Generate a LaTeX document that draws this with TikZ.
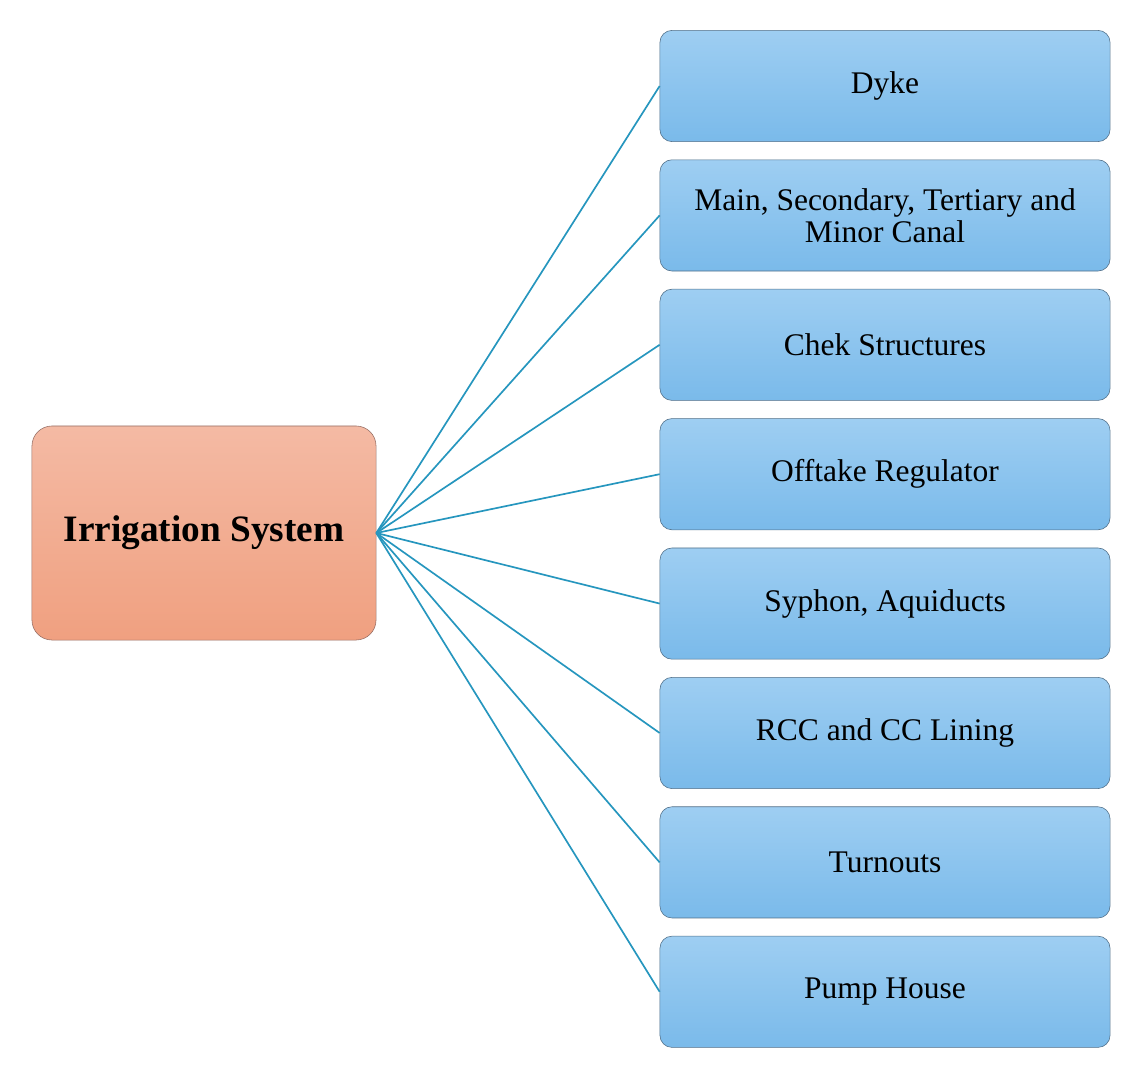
\documentclass[tikz,border=0pt]{standalone}
\usepackage{fontspec}
\setmainfont{Liberation Serif}
\usepackage{tikz}
\usetikzlibrary{
    positioning,
    calc
}
\definecolor{rootTop}{RGB}{244,186,164}
\definecolor{rootBot}{RGB}{240,160,128}
\definecolor{rootLine}{RGB}{150,110,100}
\definecolor{itemTop}{RGB}{158,206,242}
\definecolor{itemBot}{RGB}{122,186,234}
\definecolor{itemLine}{RGB}{80,110,135}
\definecolor{link}{RGB}{38,150,190}

\begin{document}
\begin{tikzpicture}[
    x=0.025cm, y=-0.025cm,
    node distance=0.44cm and 1cm,
    every node/.style={font=\fontsize{22.4}{23}\selectfont},
    root/.style={rectangle, draw=rootLine, rounded corners=0.5cm, align=center,
      minimum width=8.6cm, minimum height=5.35cm, top color=rootTop,
      bottom color=rootBot, font=\fontsize{26.5}{30}\selectfont\bfseries},
    item/.style={rectangle, draw=itemLine, rounded corners=0.3cm, align=center,
      minimum width=11.25cm, minimum height=2.78cm, top color=itemTop,
      bottom color=itemBot},
    link/.style={draw=link, line width=1.2pt}
]
\useasboundingbox (0,0) rectangle (1144,1072);
\node[root] (irrigation) at (204,533) {Irrigation System};
\node[item] (dyke) at (885,86) {Dyke};
\node[item, below=of dyke] (canal) {Main, Secondary, Tertiary and\\Minor Canal};
\node[item, below=of canal] (chek) {Chek Structures};
\node[item, below=of chek] (offtake) {Offtake Regulator};
\node[item, below=of offtake] (syphon) {Syphon, Aquiducts};
\node[item, below=of syphon] (lining) {RCC and CC Lining};
\node[item, below=of lining] (turnouts) {Turnouts};
\node[item, below=of turnouts] (pump) {Pump House};

\draw[link] (irrigation.east) -- (dyke.west);
\draw[link] (irrigation.east) -- (canal.west);
\draw[link] (irrigation.east) -- (chek.west);
\draw[link] (irrigation.east) -- (offtake.west);
\draw[link] (irrigation.east) -- (syphon.west);
\draw[link] (irrigation.east) -- (lining.west);
\draw[link] (irrigation.east) -- (turnouts.west);
\draw[link] (irrigation.east) -- (pump.west);
\end{tikzpicture}
\end{document}
